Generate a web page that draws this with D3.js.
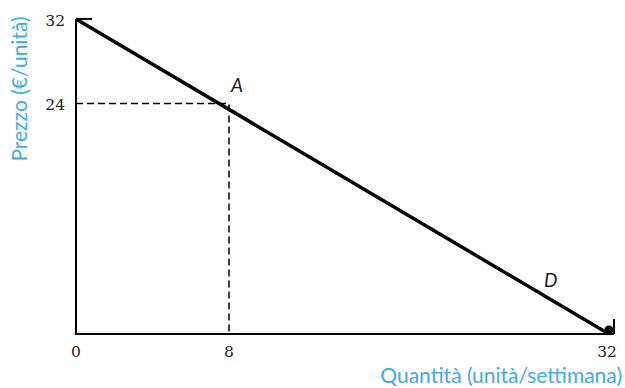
<!DOCTYPE html>
<html>
<head>
<meta charset="utf-8">
<script src="https://cdn.jsdelivr.net/npm/d3@7"></script>
<style>
  body { margin: 0; background: #fff; }
</style>
</head>
<body>
<div id="chart"></div>
<script>
// demand curve D from (0,32) to (32,0), point A at (8,24)
const demandQty = [0, 32]
const demandPrice = [32, 0]
const pointA = { q: 8, p: 24, label: "A" }
const curveLabel = { q: 27.9, p: 4.9, label: "D" }
const xTicks = [0, 8, 32]
const yTicks = [24, 32]

const width = 625, height = 388

const svg = d3.select("#chart")
              .append("svg")
              .attr("width", width)
              .attr("height", height)

// the textbook drawing is not to scale, so the scales are piecewise
const xScale = d3.scaleLinear()
                 .domain([0, 8, 32])
                 .range([76, 229, 609])

const yScale = d3.scaleLinear()
                 .domain([0, 24, 32])
                 .range([334, 103.5, 19])

const serif = "'DejaVu Serif', serif"
const sans = "Lato, 'Open Sans', sans-serif"
const blue = "#3aade8"

// axes
const axis = svg.append("g")
axis.append("line")
    .attr("x1", xScale(0)).attr("x2", xScale(0))
    .attr("y1", yScale(32)).attr("y2", yScale(0))
    .attr("stroke", "#000").attr("stroke-width", 2)
axis.append("line")
    .attr("x1", xScale(0) - 1).attr("x2", xScale(32) + 5)
    .attr("y1", yScale(0)).attr("y2", yScale(0))
    .attr("stroke", "#000").attr("stroke-width", 2)
// small end ticks
axis.append("line")
    .attr("x1", xScale(0)).attr("x2", xScale(0) + 16)
    .attr("y1", yScale(32)).attr("y2", yScale(32))
    .attr("stroke", "#000").attr("stroke-width", 2)
axis.append("line")
    .attr("x1", xScale(32) + 5).attr("x2", xScale(32) + 5)
    .attr("y1", yScale(0)).attr("y2", yScale(0) - 15)
    .attr("stroke", "#000").attr("stroke-width", 2)

// tick labels
svg.selectAll(".xtick")
   .data(xTicks)
   .join("text")
   .attr("class", "xtick")
   .attr("x", d => xScale(d) - (d === 32 ? 2 : 0))
   .attr("y", 357)
   .attr("text-anchor", "middle")
   .attr("font-family", serif)
   .attr("font-size", "15.5px")
   .attr("fill", "#222")
   .text(d => d)

svg.selectAll(".ytick")
   .data(yTicks)
   .join("text")
   .attr("class", "ytick")
   .attr("x", 65)
   .attr("y", d => yScale(d) + 6.5)
   .attr("text-anchor", "end")
   .attr("font-family", serif)
   .attr("font-size", "15.5px")
   .attr("fill", "#222")
   .text(d => d)

// dashed guides to A
svg.append("path")
   .attr("d", `M${xScale(0)},${yScale(pointA.p)}H${xScale(pointA.q)}V${yScale(0)}`)
   .attr("fill", "none")
   .attr("stroke", "#000")
   .attr("stroke-width", 1.5)
   .attr("stroke-dasharray", "7,4")

// demand line
const line = d3.line()
               .x(d => xScale(d[0]))
               .y(d => yScale(d[1]))

svg.append("path")
   .datum(d3.zip(demandQty, demandPrice))
   .attr("d", line)
   .attr("fill", "none")
   .attr("stroke", "#000")
   .attr("stroke-width", 3.5)

svg.append("circle")
   .attr("cx", xScale(demandQty[1]))
   .attr("cy", yScale(demandPrice[1]) - 4)
   .attr("r", 4.5)
   .attr("fill", "#000")

// labels A and D
svg.append("text")
   .attr("x", xScale(pointA.q) + 2)
   .attr("y", 92)
   .attr("font-family", sans)
   .attr("font-style", "italic")
   .attr("font-size", "19px")
   .attr("fill", "#1a1a2a")
   .text(pointA.label)

svg.append("text")
   .attr("x", xScale(curveLabel.q))
   .attr("y", yScale(curveLabel.p))
   .attr("font-family", sans)
   .attr("font-style", "italic")
   .attr("font-size", "19px")
   .attr("fill", "#1a1a2a")
   .text(curveLabel.label)

// axis titles
svg.append("text")
   .attr("x", 622)
   .attr("y", 382.5)
   .attr("text-anchor", "end")
   .attr("font-family", sans)
   .attr("font-size", "21px")
   .attr("fill", blue)
   .text("Quantità (unità/settimana)")

svg.append("text")
   .attr("transform", "translate(27,89) rotate(-90)")
   .attr("text-anchor", "middle")
   .attr("font-family", sans)
   .attr("font-size", "21px")
   .attr("fill", blue)
   .text("Prezzo (€/unità)")
</script>
</body>
</html>
